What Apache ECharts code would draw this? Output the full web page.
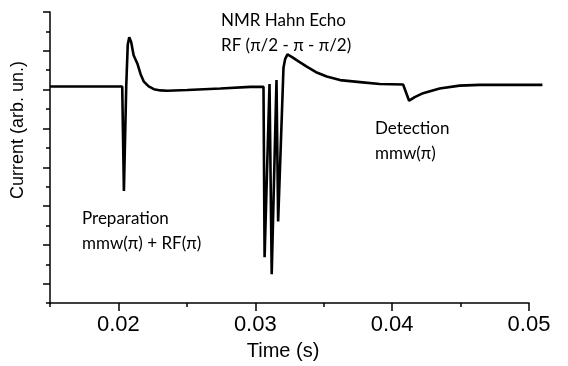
<!DOCTYPE html>
<html>
<head>
<meta charset="utf-8">
<script src="https://cdn.jsdelivr.net/npm/echarts@6/dist/echarts.min.js"></script>
<style>html,body{margin:0;padding:0;background:#fff}#c{width:568px;height:366px}</style>
</head>
<body>
<div id="c"></div>
<script>
// Time (s)
const times = [0.0150, 0.020277, 0.0204, 0.02057, 0.02068, 0.02079, 0.02093, 0.02111, 0.02138, 0.02162,
  0.02186, 0.02221, 0.02259, 0.02308, 0.02357, 0.02503, 0.02745, 0.02964, 0.03060, 0.03068,
  0.03104, 0.03120, 0.03155, 0.03167, 0.03206, 0.03218, 0.03235, 0.03269, 0.03313, 0.03376,
  0.03444, 0.03522, 0.03619, 0.03765, 0.03910, 0.04080, 0.04124, 0.04165, 0.04226, 0.04347,
  0.04493, 0.04639, 0.04858, 0.05098];
// Current (arb. un.)
const current = [5.62, 5.62, 2.98, 5.62, 6.67, 6.86, 6.74, 6.41, 6.20, 5.93,
  5.74, 5.62, 5.55, 5.52, 5.51, 5.53, 5.57, 5.61, 5.61, 1.31,
  5.68, 0.88, 5.78, 2.21, 6.09, 6.31, 6.43, 6.36, 6.26, 6.12,
  5.98, 5.87, 5.78, 5.73, 5.68, 5.67, 5.26, 5.35, 5.45, 5.57,
  5.64, 5.66, 5.66, 5.66];
const xTickLabels = [0.02, 0.03, 0.04, 0.05];
const xMinorTicks = [0.015, 0.025, 0.035, 0.045];
const yMajorTicks = [0.5, 1.5, 2.5, 3.5, 4.5, 5.5, 6.5, 7.5];
const yMinorTicks = [0, 1, 2, 3, 4, 5, 6, 7];
const annotations = [
  { lines: ['Preparation', 'mmw(π) + RF(π)'], x: 82, y: 206 },
  { lines: ['NMR Hahn Echo', 'RF (π/2 - π - π/2)'], x: 221, y: 8 },
  { lines: ['Detection', 'mmw(π)'], x: 375, y: 116 }
];

const X_MIN = 0.015, X_MAX = 0.05, Y_MIN = 0, Y_MAX = 7.5;
const G = { left: 50, right: 39, top: 12, bottom: 57 };
const W = 568;
// the recorded trace runs past the end of the drawn axis: a second (hidden) grid,
// with the same scale, lets it continue beyond x = 0.05
const extraPx = 15;
const axisPx = W - G.left - G.right;
const X_MAX_DATA = X_MAX + (X_MAX - X_MIN) * extraPx / axisPx;

const seriesData = times.map((t, i) => [t, current[i]]);
const chart = echarts.init(document.getElementById('c'), null, { renderer: 'canvas' });
const axisFont = 'Liberation Sans';
const hiddenAxis = { axisLine: { show: false }, axisTick: { show: false }, axisLabel: { show: false }, splitLine: { show: false } };
chart.setOption({
  animation: false,
  backgroundColor: '#fff',
  grid: [G, { left: G.left, right: G.right - extraPx, top: G.top, bottom: G.bottom }],
  xAxis: [
    {
      type: 'value', min: X_MIN, max: X_MAX, gridIndex: 0,
      axisLine: { show: true, lineStyle: { color: '#000', width: 1.5 } },
      axisTick: { show: true, customValues: xTickLabels, length: 8, lineStyle: { color: '#000', width: 1.5 } },
      axisLabel: { customValues: xTickLabels, formatter: v => v.toFixed(2), fontSize: 22, color: '#000', fontFamily: axisFont, margin: 11 },
      splitLine: { show: false },
      name: 'Time (s)', nameLocation: 'middle', nameGap: 33,
      nameTextStyle: { fontSize: 20, color: '#000', fontFamily: axisFont, padding: [0, 13, 0, 0] }
    },
    {
      type: 'value', min: X_MIN, max: X_MAX, position: 'bottom', gridIndex: 0,
      axisLine: { show: false },
      axisTick: { show: true, customValues: xMinorTicks, length: 4, lineStyle: { color: '#000', width: 1.5 } },
      axisLabel: { show: false },
      splitLine: { show: false }
    },
    Object.assign({ type: 'value', min: X_MIN, max: X_MAX_DATA, gridIndex: 1 }, hiddenAxis)
  ],
  yAxis: [
    {
      type: 'value', min: Y_MIN, max: Y_MAX, gridIndex: 0,
      axisLine: { show: true, lineStyle: { color: '#000', width: 1.5 } },
      axisTick: { show: true, customValues: yMajorTicks, length: 7, lineStyle: { color: '#000', width: 1.5 } },
      axisLabel: { show: false },
      splitLine: { show: false }
    },
    {
      type: 'value', min: Y_MIN, max: Y_MAX, position: 'left', gridIndex: 0,
      axisLine: { show: false },
      axisTick: { show: true, customValues: yMinorTicks, length: 4, lineStyle: { color: '#000', width: 1.5 } },
      axisLabel: { show: false },
      splitLine: { show: false }
    },
    Object.assign({ type: 'value', min: Y_MIN, max: Y_MAX, gridIndex: 1 }, hiddenAxis)
  ],
  series: [{
    type: 'line', xAxisIndex: 2, yAxisIndex: 2,
    data: seriesData, showSymbol: false, clip: false, smooth: false,
    lineStyle: { color: '#000', width: 2.6 }
  }],
  graphic: [
    {
      type: 'text', x: 18, y: 130, rotation: Math.PI / 2,
      style: { text: 'Current (arb. un.)', align: 'center', verticalAlign: 'middle', fontSize: 18, fontFamily: axisFont, fill: '#000' }
    }
  ].concat(annotations.map(a => ({
    type: 'text', x: a.x, y: a.y,
    style: { text: a.lines.join('\n'), align: 'left', verticalAlign: 'top', fontSize: 17, lineHeight: 25, fontFamily: 'Lato', fill: '#000' }
  })))
});
</script>
</body>
</html>
